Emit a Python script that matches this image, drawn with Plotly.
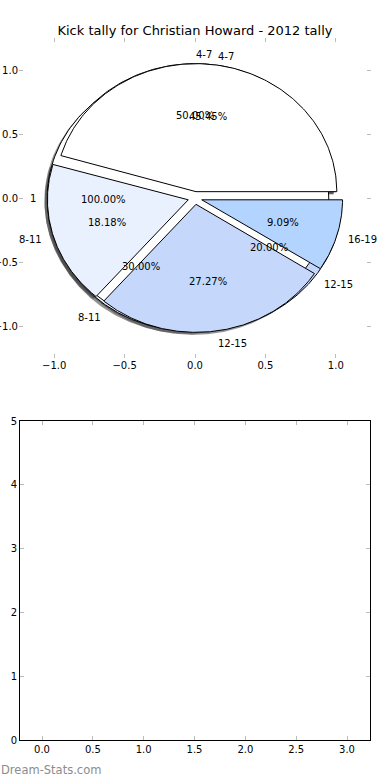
import numpy as np
import plotly.graph_objects as go

# ---------------- data ----------------
chart_title = "Kick tally for Christian Howard - 2012 tally"

pie_a_labels = ["4-7", "8-11", "12-15"]
pie_a_values = [5, 3, 2]

pie_b_labels = ["1"]
pie_b_values = [1]

pie_c_labels = ["4-7", "8-11", "12-15", "16-19"]
pie_c_values = [5, 2, 3, 1]

slice_colors = ["#ffffff", "#e9f0fe", "#c5d8fc", "#b3d4fe"]

pie_ticks = [-1.0, -0.5, 0.0, 0.5, 1.0]
bottom_x_ticks = [0.0, 0.5, 1.0, 1.5, 2.0, 2.5, 3.0]
bottom_y_ticks = [0, 1, 2, 3, 4, 5]

watermark = "Dream-Stats.com"

# ---------------- geometry helpers ----------------
EXPLODE = 0.05
SHADOW = -0.02
W, H = 390, 780


def fmt(v):
    s = f"{v:.1f}"
    return s.replace("-", "\u2212")


def pie_parts(values, labels):
    total = float(sum(values))
    theta1 = 0.0
    parts = []
    for i, (v, lab) in enumerate(zip(values, labels)):
        theta2 = theta1 + 360.0 * v / total
        thetam = np.deg2rad((theta1 + theta2) / 2.0)
        cx = EXPLODE * np.cos(thetam)
        cy = EXPLODE * np.sin(thetam)
        ang = np.deg2rad(np.linspace(theta1, theta2, 200))
        ax = cx + np.cos(ang)
        ay = cy + np.sin(ang)
        if abs(theta2 - theta1 - 360.0) < 1e-9:
            px, py = list(ax), list(ay)
        else:
            px = [cx] + list(ax) + [cx]
            py = [cy] + list(ay) + [cy]
        lx = cx + 1.1 * np.cos(thetam)
        ly = cy + 1.1 * np.sin(thetam)
        tx = cx + 0.6 * np.cos(thetam)
        ty = cy + 0.6 * np.sin(thetam)
        parts.append(dict(px=px, py=py, color=slice_colors[i % len(slice_colors)],
                          label=lab, lx=lx, ly=ly, tx=tx, ty=ty, t=thetam,
                          pct=100.0 * v / total))
        theta1 = theta2
    return parts


pies = [pie_parts(pie_a_values, pie_a_labels),
        pie_parts(pie_b_values, pie_b_labels),
        pie_parts(pie_c_values, pie_c_labels)]

fig = go.Figure()

# shadows first (under every wedge)
for pie in pies:
    for p in pie:
        fig.add_trace(go.Scatter(
            x=[x + SHADOW for x in p["px"]], y=[y + SHADOW for y in p["py"]],
            mode="lines", fill="toself", fillcolor="rgba(60,60,60,0.55)",
            line=dict(width=0), hoverinfo="skip", showlegend=False,
            xaxis="x", yaxis="y"))

# wedges
for pie in pies:
    for p in pie:
        fig.add_trace(go.Scatter(
            x=p["px"], y=p["py"], mode="lines", fill="toself",
            fillcolor=p["color"], line=dict(color="black", width=1),
            hoverinfo="skip", showlegend=False, xaxis="x", yaxis="y"))

annotations = []
for pie in pies:
    for p in pie:
        left = p["lx"] > 0
        s = np.sin(p["t"])
        annotations.append(dict(
            x=p["lx"], y=p["ly"], xref="x", yref="y", text=p["label"],
            showarrow=False, xanchor="left" if left else "right",
            xshift=-4 * np.cos(p["t"]) + (-1 if left else 1),
            yshift=-4 * s if s > 0 else 0,
            yanchor="middle", font=dict(size=10, color="black")))
        annotations.append(dict(
            x=p["tx"], y=p["ty"], xref="x", yref="y", text=f"{p['pct']:.2f}%",
            showarrow=False, xanchor="center", yanchor="middle",
            yshift=-1,
            font=dict(size=10, color="black")))

annotations.append(dict(
    x=0.0, y=1 - 770 / H, xref="paper", yref="paper", text=watermark,
    showarrow=False, xanchor="left", yanchor="middle", xshift=-1,
    font=dict(size=11.5, color="#8c8c8c", family="DejaVu Sans")))

# empty trace for the lower axes
fig.add_trace(go.Scatter(x=[], y=[], xaxis="x2", yaxis="y2", showlegend=False))

tick_common = dict(ticks="inside", ticklen=4, tickwidth=1, tickcolor="#bbbbbb",
                   showgrid=False, zeroline=False, automargin=False,
                   tickfont=dict(size=10, color="black"))

fig.update_layout(
    width=W, height=H, margin=dict(l=0, r=0, t=0, b=0),
    paper_bgcolor="white", plot_bgcolor="rgba(0,0,0,0)",
    font=dict(family="DejaVu Sans", size=10, color="black"),
    showlegend=False,
    title=dict(text=chart_title, x=0.5, xanchor="center", xref="paper",
               y=1 - 30 / H, yanchor="middle", yref="paper",
               font=dict(size=13, color="black")),
    xaxis=dict(domain=[19 / W, 371 / W], range=[-1.25, 1.25], anchor="y",
               tickvals=pie_ticks, ticktext=[fmt(v) for v in pie_ticks],
               showline=False, mirror="ticks", **tick_common),
    yaxis=dict(domain=[1 - 358 / H, 1 - 38 / H], range=[-1.25, 1.25], anchor="x",
               tickvals=pie_ticks, ticktext=[fmt(v) for v in pie_ticks],
               showline=False, mirror="ticks", **tick_common),
    xaxis2=dict(domain=[20 / W, 370 / W], range=[-0.2164, 3.2262], anchor="y2",
                tickvals=bottom_x_ticks, ticktext=[fmt(v) for v in bottom_x_ticks],
                showline=True, linecolor="black", linewidth=1, mirror="ticks",
                **tick_common),
    yaxis2=dict(domain=[1 - 740 / H, 1 - 421 / H], range=[0, 5], anchor="x2",
                tickvals=bottom_y_ticks, ticktext=[str(v) for v in bottom_y_ticks],
                showline=True, linecolor="black", linewidth=1, mirror="ticks",
                **tick_common),
    annotations=annotations,
)

fig.write_html(
    "out.html",
    config={"displayModeBar": False},
    post_script="document.body.style.margin='0';document.body.style.overflow='hidden';",
)
